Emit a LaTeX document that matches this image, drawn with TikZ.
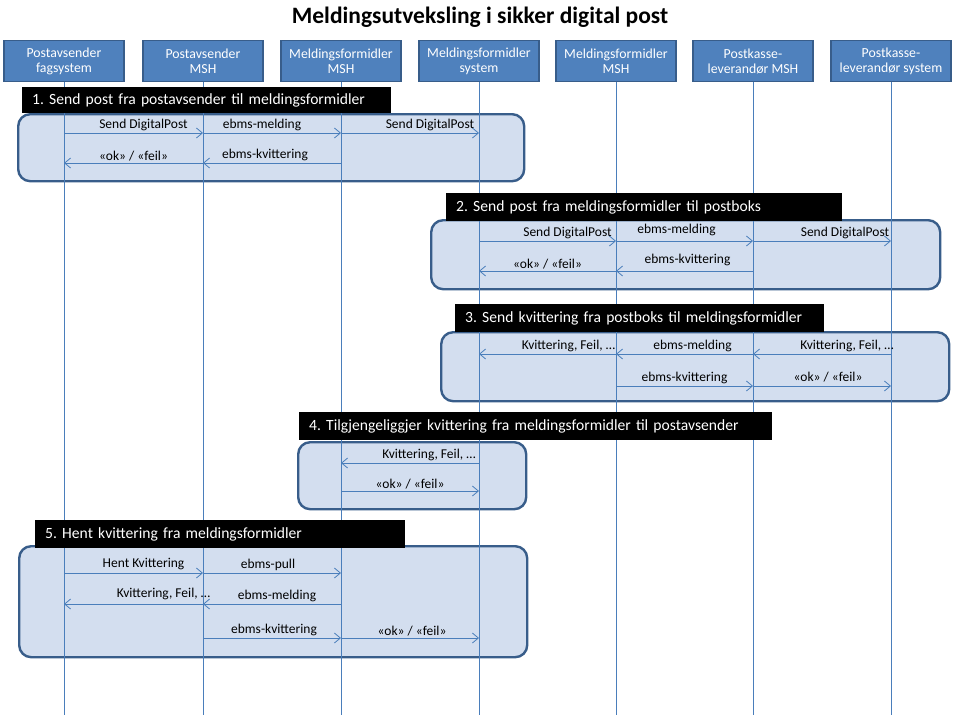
\documentclass[tikz,border=0pt]{standalone}
\usepackage{fontspec}
\setmainfont{Carlito}
\usetikzlibrary{positioning, arrows.meta}
\frenchspacing

\definecolor{headblue}{HTML}{4F81BD}
\definecolor{headedge}{HTML}{385D8A}
\definecolor{lineblue}{HTML}{4A7EBB}
\definecolor{phasefill}{HTML}{D3DEEF}

\begin{document}
\begin{tikzpicture}[
					x=1pt, y=1pt,
					head/.style={draw=headedge, line width=1.2pt, fill=headblue, text=white,
						minimum width=120pt, minimum height=41pt, inner sep=1pt, align=center,
						font=\fontsize{13.8}{15}\selectfont},
					lifeline/.style={draw=lineblue, line width=0.8pt},
					phase/.style={draw=headedge, line width=2.4pt, fill=phasefill,
						rounded corners=12pt, anchor=north west, inner sep=0pt},
					phasetitle/.style={fill=black, text=white, anchor=north west, inner xsep=10pt,
						inner ysep=0pt, minimum height=28pt, align=left,
						font=\fontsize{15.6}{17}\selectfont},
					msg/.style={draw=lineblue, line width=0.8pt, -{Straight Barb[length=6pt, width=10pt]}},
					lbl/.style={above, inner sep=2pt, text=black, font=\fontsize{13.5}{14}\selectfont}
					]
					\useasboundingbox (0,0) rectangle (960,-720);
					\node[font=\bfseries\fontsize{23.5}{26}\selectfont] (title) at (480,-17)
					{Meldingsutveksling i sikker digital post};

					% phase frames
					\node[phase, minimum width=506pt, minimum height=67pt] (p1) at (17,-113) {};
					\node[phase, minimum width=509pt, minimum height=69pt] (p2) at (430,-219) {};
					\node[phase, minimum width=508pt, minimum height=69pt] (p3) at (440,-331) {};
					\node[phase, minimum width=228pt, minimum height=67pt] (p4) at (297,-441) {};
					\node[phase, minimum width=508pt, minimum height=111pt] (p5) at (18,-545) {};

					% participants and lifelines
					\coordinate (bottom) at (0,-715);
					\foreach \i/\x/\name in {1/64/{Postavsender\\fagsystem},
						2/203/{Postavsender\\MSH},
						3/341/{Meldingsformidler\\MSH},
						4/479/{Meldingsformidler\\system},
						5/616/{Meldingsformidler\\MSH},
						6/753/{Postkasse-\\leverandør MSH},
						7/891/{Postkasse-\\leverandør system}}
					{
						\node[head] (h\i) at (\x,-61) {\name};
						\draw[lifeline] (h\i.south) -- (h\i |- bottom);
					}

					% message rows
					\foreach \n/\y in {1/133, 2/163, 3/241, 4/271, 5/354, 6/386,
						7/463, 8/491, 9/573, 10/604, 11/638}
					\coordinate (r\n) at (0,-\y);

					% 1
					\draw[msg] (h1 |- r1) -- node[lbl, xshift=10pt] {Send DigitalPost} (h2 |- r1);
					\draw[msg] (h2 |- r1) -- node[lbl, xshift=-10pt] {ebms-melding} (h3 |- r1);
					\draw[msg] (h3 |- r1) -- node[lbl, xshift=20pt] {Send DigitalPost} (h4 |- r1);
					\draw[msg] (h3 |- r2) -- node[lbl, xshift=-7pt] {ebms-kvittering} (h2 |- r2);
					\draw[msg] (h2 |- r2) -- node[lbl] {«ok» / «feil»} (h1 |- r2);
					% 2
					\draw[msg] (h4 |- r3) -- node[lbl, xshift=20pt] {Send DigitalPost} (h5 |- r3);
					\draw[msg] (h5 |- r3) -- node[lbl, xshift=-8pt, yshift=3pt] {ebms-melding} (h6 |- r3);
					\draw[msg] (h6 |- r3) -- node[lbl, xshift=23pt] {Send DigitalPost} (h7 |- r3);
					\draw[msg] (h6 |- r4) -- node[lbl, xshift=3pt, yshift=3pt] {ebms-kvittering} (h5 |- r4);
					\draw[msg] (h5 |- r4) -- node[lbl] {«ok» / «feil»} (h4 |- r4);
					% 3
					\draw[msg] (h7 |- r5) -- node[lbl, xshift=25pt] {Kvittering, Feil, …} (h6 |- r5);
					\draw[msg] (h6 |- r5) -- node[lbl, xshift=8pt] {ebms-melding} (h5 |- r5);
					\draw[msg] (h5 |- r5) -- node[lbl, xshift=21pt] {Kvittering, Feil, …} (h4 |- r5);
					\draw[msg] (h5 |- r6) -- node[lbl] {ebms-kvittering} (h6 |- r6);
					\draw[msg] (h6 |- r6) -- node[lbl, xshift=6pt, yshift=2pt] {«ok» / «feil»} (h7 |- r6);
					% 4
					\draw[msg] (h4 |- r7) -- node[lbl, xshift=19pt] {Kvittering, Feil, …} (h3 |- r7);
					\draw[msg] (h3 |- r8) -- node[lbl] {«ok» / «feil»} (h4 |- r8);
					% 5
					\draw[msg] (h1 |- r9) -- node[lbl, xshift=10pt, yshift=1pt] {Hent Kvittering} (h2 |- r9);
					\draw[msg] (h2 |- r9) -- node[lbl, xshift=-4pt] {ebms-pull} (h3 |- r9);
					\draw[msg] (h3 |- r10) -- node[lbl, xshift=5pt] {ebms-melding} (h2 |- r10);
					\draw[msg] (h2 |- r10) -- node[lbl, xshift=30pt, yshift=2pt] {Kvittering, Feil, …} (h1 |- r10);
					\draw[msg] (h2 |- r11) -- node[lbl, xshift=2pt] {ebms-kvittering} (h3 |- r11);
					\draw[msg] (h3 |- r11) -- node[lbl, xshift=2pt] {«ok» / «feil»} (h4 |- r11);

					% phase titles
					\node[phasetitle, text width=349pt, minimum height=26pt] (t1) at (22,-87)
					{1. Send post fra postavsender til meldingsformidler};
					\node[phasetitle, text width=376pt] (t2) at (446,-193)
					{2. Send post fra meldingsformidler til postboks};
					\node[phasetitle, text width=349pt] (t3) at (455,-304)
					{3. Send kvittering fra postboks til meldingsformidler};
					\node[phasetitle, text width=453pt] (t4) at (299,-412)
					{4. Tilgjengeliggjer kvittering fra meldingsformidler til postavsender};
					\node[phasetitle, text width=350pt] (t5) at (35,-520)
					{5. Hent kvittering fra meldingsformidler};
				\end{tikzpicture}
\end{document}
